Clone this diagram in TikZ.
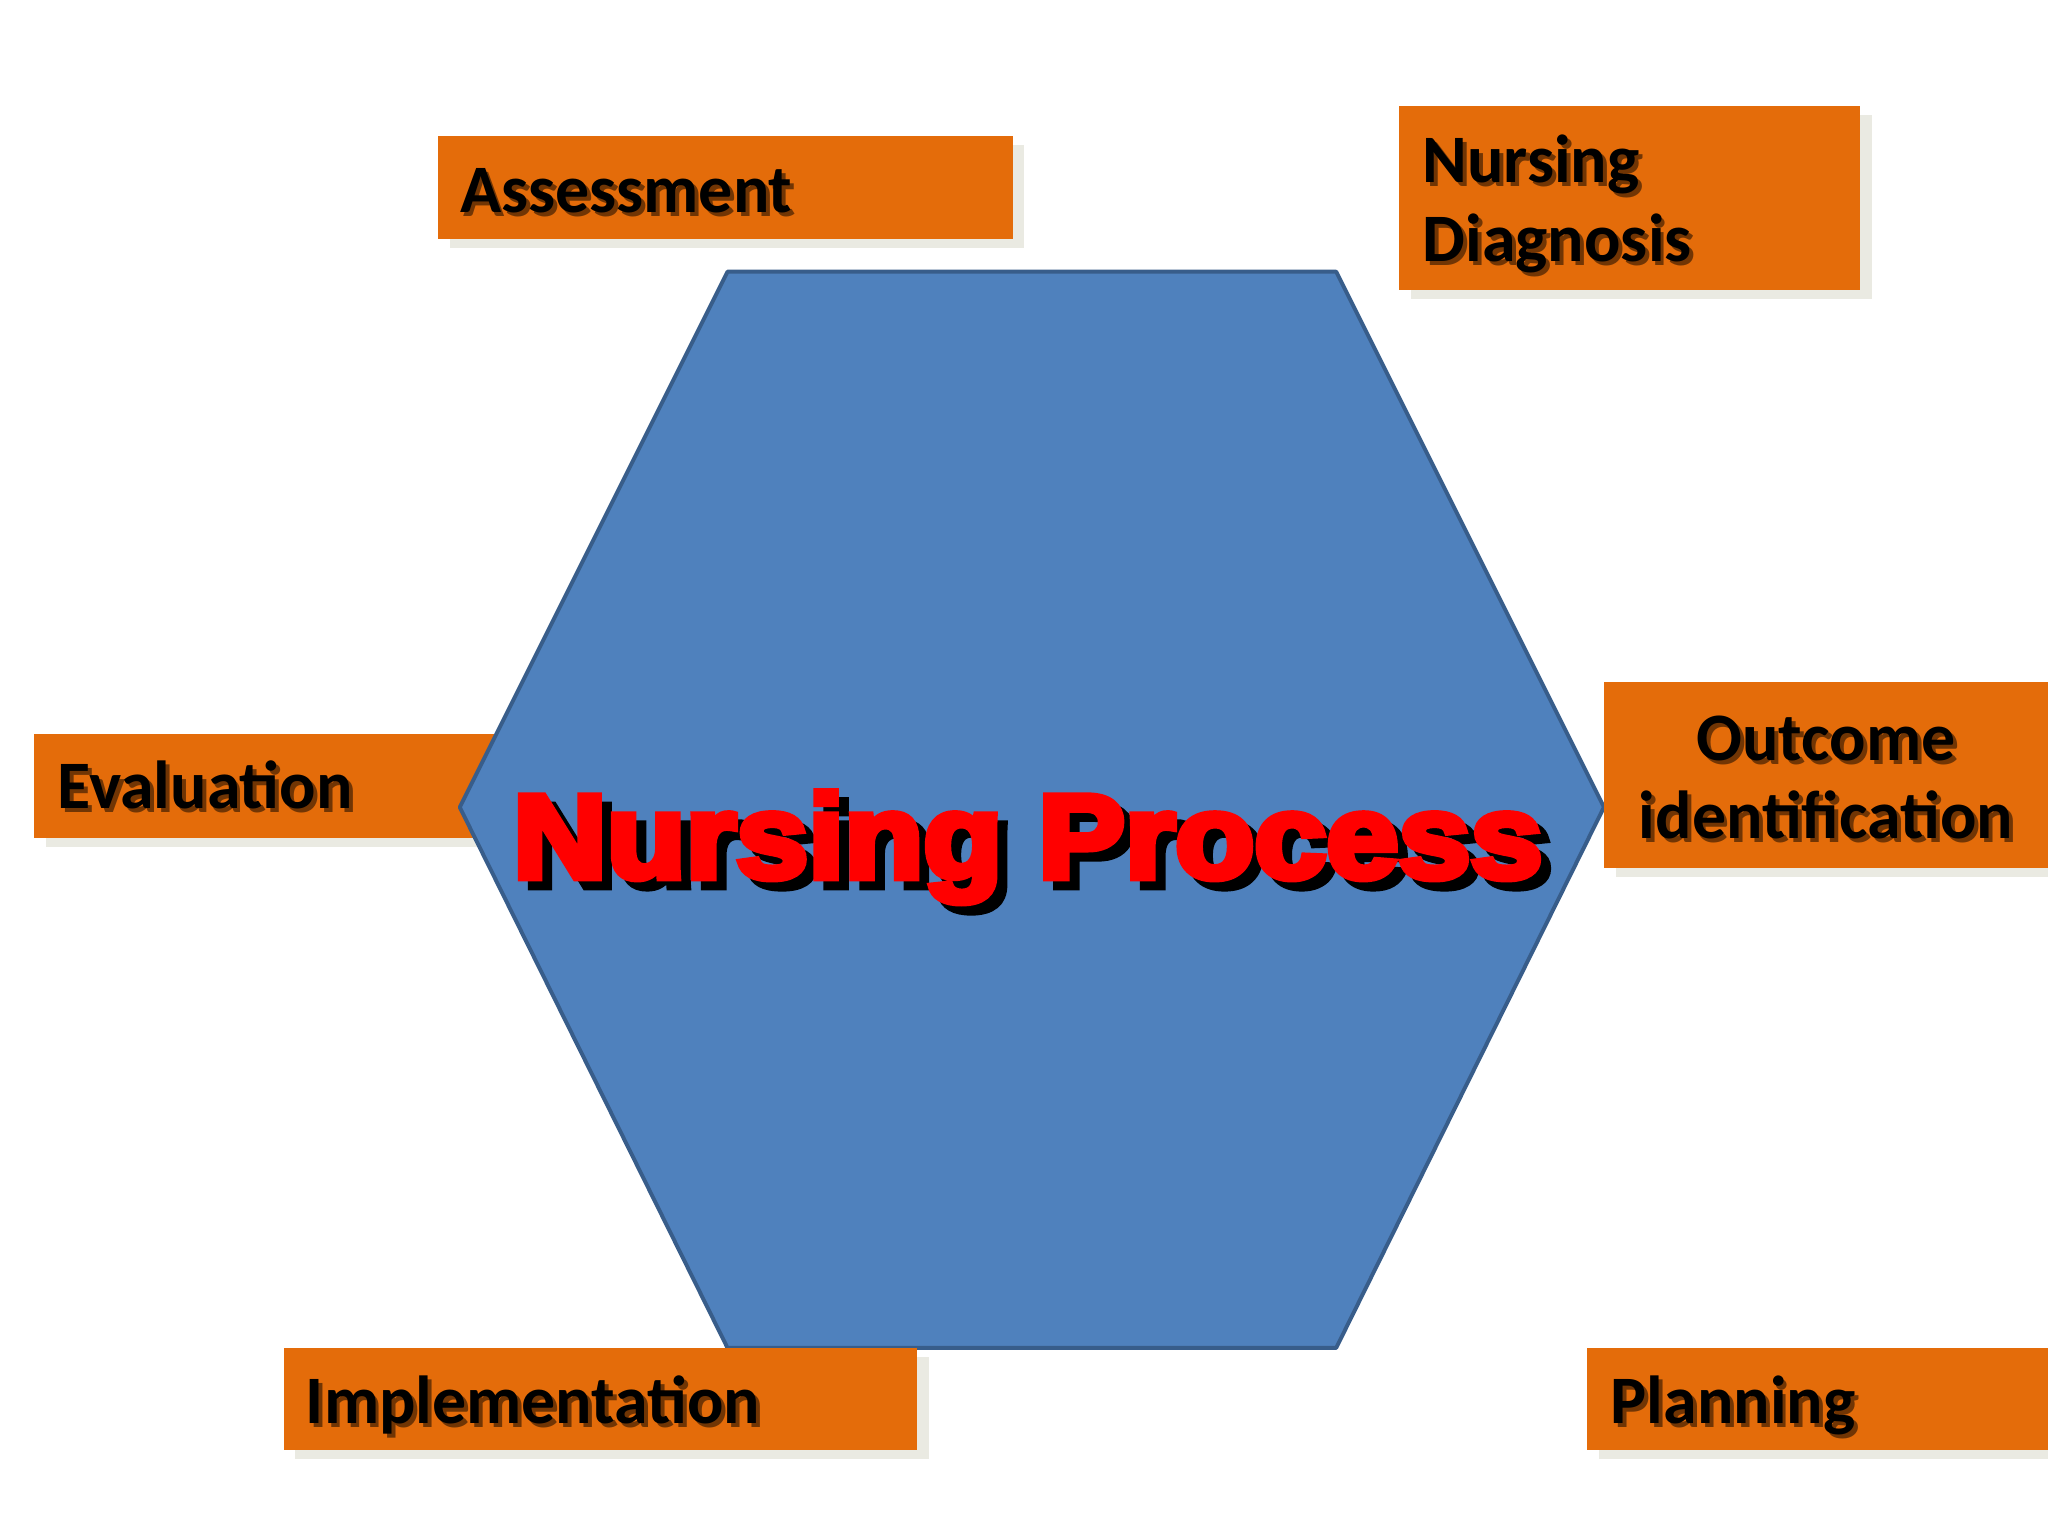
\documentclass[tikz,border=0pt]{standalone}
\usepackage{fontspec}
\setmainfont{Carlito}
\newfontfamily\heavy[BoldFeatures={FakeBold=6}]{Liberation Sans}
\usetikzlibrary{shadows}
\definecolor{boxorange}{RGB}{228,108,10}
\definecolor{hexblue}{RGB}{79,129,189}
\definecolor{hexedge}{RGB}{56,93,138}
\definecolor{boxshade}{RGB}{234,234,226}
\newcommand{\shadowed}[3]{\makebox[0pt][l]{\raisebox{-#1}{\hspace{#1}\textcolor{#2}{#3}}}#3}
\tikzset{
  labelbox/.style={fill=boxorange, draw=none, anchor=north west, inner sep=0pt,
    drop shadow={shadow xshift=9pt, shadow yshift=-7pt, fill=boxshade, opacity=1}},
  labeltext/.style={font=\fontsize{52}{60}\selectfont\bfseries, inner sep=0pt, text=black},
  labelshade/.style={labeltext, text=black, opacity=0.5},
  titletext/.style={font=\heavy\bfseries\fontsize{91}{100}\selectfont, inner sep=0pt, anchor=base},
}
\begin{document}
\begin{tikzpicture}[x=1pt,y=-1pt]
\useasboundingbox (0,0) rectangle (1568,1176);
\fill[white] (0,0) rectangle (1568,1176);

% Evaluation box (behind hexagon)
\node[labelbox, minimum width=356pt, minimum height=79pt] (evalbox) at (26,562) {};
\node[labelshade, anchor=base west] (evalS) at (47,622) {Evaluation};
\node[labeltext, anchor=base west] (evalT) at (44,619) {Evaluation};

% Hexagon
\coordinate (h1) at (557,208);
\coordinate (h2) at (1023,208);
\coordinate (h3) at (1228,618);
\coordinate (h4) at (1023,1032);
\coordinate (h5) at (557,1032);
\coordinate (h6) at (352,618);
\draw[fill=hexblue, draw=hexedge, line width=3pt, line join=round]
  (h1) -- (h2) -- (h3) -- (h4) -- (h5) -- (h6) -- cycle;

% Title
\node[titletext, text=red] (title) at (787,672)
  {\scalebox{1.09}[1]{\shadowed{7pt}{black}{Nursing Process}}};

% Assessment
\node[labelbox, minimum width=440pt, minimum height=79pt] (assessbox) at (335,104) {};
\node[labelshade, anchor=base west] (assessS) at (355,166) {Assessment};
\node[labeltext, anchor=base west] (assessT) at (352,163) {Assessment};

% Nursing Diagnosis
\node[labelbox, minimum width=353pt, minimum height=141pt] (diagbox) at (1071,81) {};
\node[labelshade, anchor=base west, align=left] (diagS) at (1092,203) {Nursing\\Diagnosis};
\node[labeltext, anchor=base west, align=left] (diagT) at (1089,200) {Nursing\\Diagnosis};

% Outcome identification
\node[labelbox, minimum width=345pt, minimum height=142pt] (outbox) at (1228,522) {};
\node[labelshade, anchor=base, align=center] (outS) at (1401,645) {Outcome\\identification};
\node[labeltext, anchor=base, align=center] (outT) at (1398,642) {Outcome\\identification};

% Implementation
\node[labelbox, minimum width=485pt, minimum height=78pt] (implbox) at (217,1032) {};
\node[labelshade, anchor=base west] (implS) at (237,1093) {Implementation};
\node[labeltext, anchor=base west] (implT) at (234,1090) {Implementation};

% Planning
\node[labelbox, minimum width=358pt, minimum height=78pt] (planbox) at (1215,1032) {};
\node[labelshade, anchor=base west] (planS) at (1236,1093) {Planning};
\node[labeltext, anchor=base west] (planT) at (1233,1090) {Planning};
\end{tikzpicture}
\end{document}
